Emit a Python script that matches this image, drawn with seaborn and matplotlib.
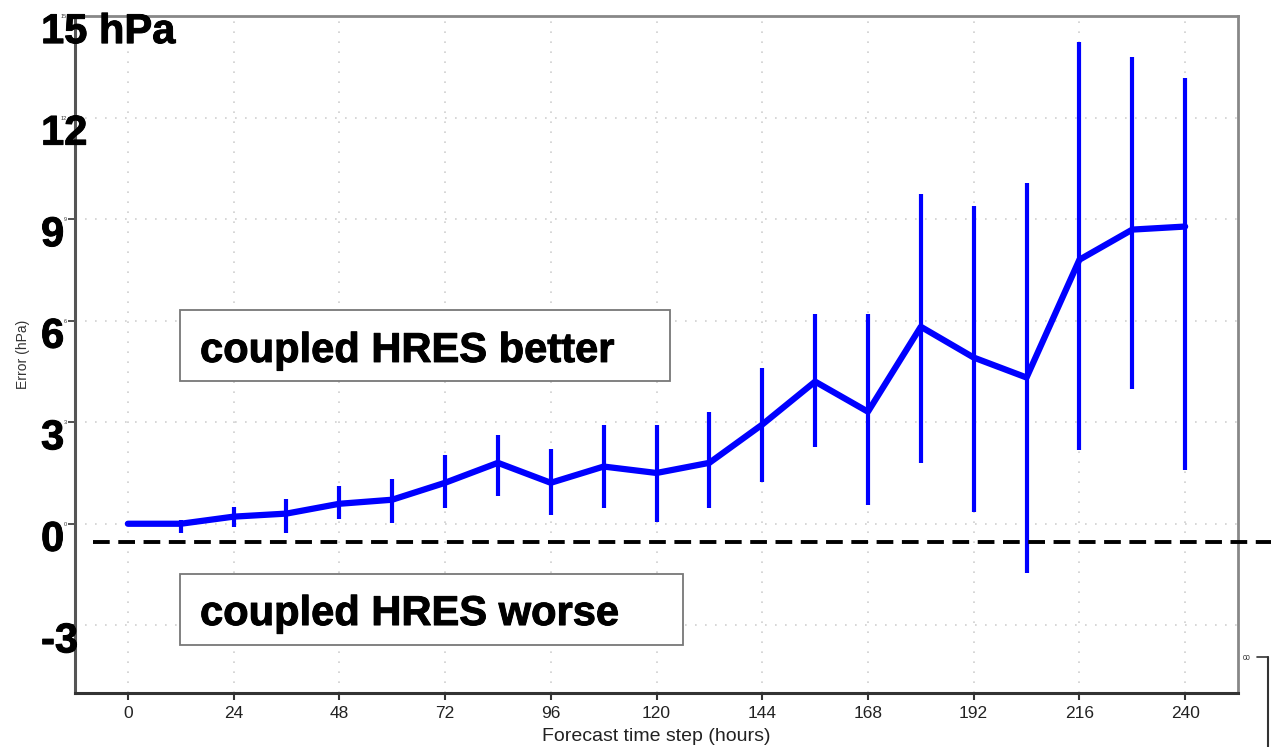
import matplotlib
matplotlib.use("Agg")
import matplotlib.pyplot as plt
import matplotlib.patches as mpatches
import matplotlib.lines as mlines
import matplotlib.patheffects as pe
from matplotlib import font_manager
import seaborn as sns
import pandas as pd
import numpy as np

# ---- data ----
steps = [0, 12, 24, 36, 48, 60, 72, 84, 96, 108, 120, 132, 144, 156, 168, 180, 192, 204, 216, 228, 240]
mean_err = [0.0, 0.0, 0.21, 0.3, 0.59, 0.71, 1.21, 1.8, 1.21, 1.69, 1.5, 1.8, 2.93, 4.2, 3.31, 5.82, 4.91, 4.32, 7.8, 8.69, 8.78]
upper_err = [0.0, 0.12, 0.5, 0.74, 1.12, 1.33, 2.04, 2.63, 2.22, 2.93, 2.93, 3.31, 4.61, 6.21, 6.21, 9.73, 9.4, 10.08, 14.22, 13.8, 13.18]
lower_err = [0.0, -0.27, -0.09, -0.27, 0.15, 0.03, 0.47, 0.83, 0.27, 0.47, 0.06, 0.47, 1.24, 2.28, 0.56, 1.8, 0.35, -1.45, 2.19, 3.99, 1.6]
x_ticks = [0, 24, 48, 72, 96, 120, 144, 168, 192, 216, 240]
y_ticks = [-3, 0, 3, 6, 9, 12, 15]
big_labels = ["-3", "0", "3", "6", "9", "12", "15 hPa"]
ref_level = -0.53
xlabel = "Forecast time step (hours)"
ylabel = "Error (hPa)"
better_txt = "coupled HRES better"
worse_txt = "coupled HRES worse"

df = pd.DataFrame({"step": steps, "err": mean_err})

sns.set_theme(style="white")
plt.rcParams["font.family"] = ["Liberation Sans", "DejaVu Sans"]

# pick a sans family that really has a bold face installed
bold_family = "DejaVu Sans"
for fam in ["Liberation Sans", "Arimo", "Roboto", "Noto Sans", "Open Sans", "Lato", "Inter"]:
    ok = any(f.name == fam and (f.weight in ("bold", 700, "700") or
                                (isinstance(f.weight, int) and f.weight >= 700))
             for f in font_manager.fontManager.ttflist)
    if ok:
        bold_family = fam
        break
big_size = 30 if bold_family != "DejaVu Sans" else 26
heavy = [pe.withStroke(linewidth=0.7, foreground="black")]

fig = plt.figure(figsize=(12.71, 7.47), dpi=100)
ax = fig.add_axes([75 / 1271, 54 / 747, 1163 / 1271, 677 / 747])

BLUE = "#0000FF"
# error bars
ax.vlines(steps, lower_err, upper_err, color=BLUE, linewidth=3.0, zorder=3)
# mean line
sns.lineplot(data=df, x="step", y="err", ax=ax, color=BLUE, linewidth=4.5, zorder=4)

ax.set_xlim(-12, 252)
ax.set_ylim(-5, 15)
ax.set_xticks(x_ticks)
ax.set_xticklabels([str(t) for t in x_ticks], fontsize=12.5, color="#222222")
ax.set_yticks(y_ticks)
ax.set_yticklabels([str(t) for t in y_ticks], fontsize=4, color="#333333")
ax.tick_params(axis="x", direction="out", length=5, width=1.5, color="#333333", pad=4, bottom=True)
ax.tick_params(axis="y", direction="out", length=5, width=1.2, color="#333333", pad=1, left=True)

ax.grid(True, linestyle=(0, (1, 5)), color="#cfcfcf", linewidth=1.2)
ax.set_axisbelow(True)

ax.set_xlabel(xlabel, fontsize=14, color="#222222", labelpad=5.5)
ax.set_ylabel(ylabel, fontsize=10, color="#333333", labelpad=22)

for side, col, lw in [("left", "#555555", 2.2), ("bottom", "#333333", 2.2),
                      ("top", "#888888", 2.0), ("right", "#888888", 2.0)]:
    ax.spines[side].set_color(col)
    ax.spines[side].set_linewidth(lw)
    ax.spines[side].set_visible(True)

# dashed reference line extending to figure edge
ax.plot([-8, 262], [ref_level, ref_level], color="black", linewidth=2.8,
        dashes=(4.3, 2.2), clip_on=False, zorder=5)

# big overlaid y labels
for v, lab in zip(y_ticks, big_labels):
    ax.text(-0.0292, v - 0.8, lab, transform=ax.get_yaxis_transform(),
            fontsize=big_size, fontweight="bold", family=bold_family, color="black",
            ha="left", va="baseline", clip_on=False, zorder=6, path_effects=heavy)

# annotation boxes
ax.add_patch(mpatches.Rectangle((0.0903, 0.4609), 0.4213, 0.1048, transform=ax.transAxes,
                                fill=True, facecolor="white", edgecolor="#777777", linewidth=1.3, zorder=2))
ax.add_patch(mpatches.Rectangle((0.0903, 0.0709), 0.4325, 0.1049, transform=ax.transAxes,
                                fill=True, facecolor="white", edgecolor="#777777", linewidth=1.3, zorder=2))
ax.text(0.1075, 0.489, better_txt, transform=ax.transAxes, fontsize=big_size, fontweight="bold",
        family=bold_family, ha="left", va="baseline", color="black", zorder=6, path_effects=heavy)
ax.text(0.1075, 0.1004, worse_txt, transform=ax.transAxes, fontsize=big_size, fontweight="bold",
        family=bold_family, ha="left", va="baseline", color="black", zorder=6, path_effects=heavy)

# fragment of a neighbouring panel at the bottom right
fig.text(1243 / 1271, 1 - 659 / 747, "00", fontsize=5, color="#222222", ha="left", va="center")
fig.add_artist(mlines.Line2D([1257 / 1271, 1268 / 1271], [1 - 657 / 747, 1 - 657 / 747],
                             color="#333333", linewidth=1.2))
fig.add_artist(mlines.Line2D([1268 / 1271, 1268 / 1271], [1 - 657 / 747, 0],
                             color="#333333", linewidth=1.5))

fig.savefig("out.png", dpi=100)
